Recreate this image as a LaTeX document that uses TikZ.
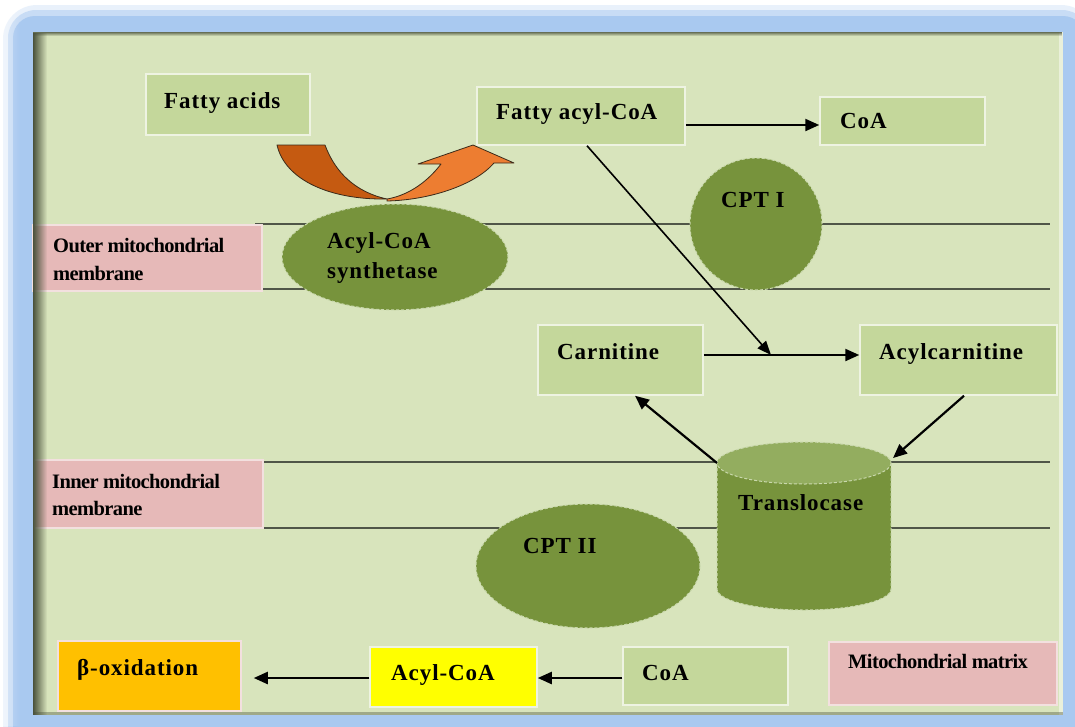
\documentclass[tikz,border=0pt]{standalone}
\usepackage{fontspec}
\setmainfont{Liberation Serif}
\newfontfamily\labfont{Liberation Serif}[LetterSpace=4]
\newfontfamily\smallfont{Liberation Serif}[LetterSpace=-3]
\usetikzlibrary{arrows.meta,calc,fadings,shapes.geometric}
\definecolor{panel}{HTML}{D8E4BC}
\definecolor{boxg}{HTML}{C4D79B}
\definecolor{boxedge}{HTML}{EEF3E2}
\definecolor{olive}{HTML}{77933C}
\definecolor{olivetop}{HTML}{93AD5F}
\definecolor{olivedge}{HTML}{C9D8AC}
\definecolor{pinkbox}{HTML}{E6B9B8}
\definecolor{pinkedge}{HTML}{F3E0DF}
\definecolor{frameblue}{HTML}{A9C9F0}
\definecolor{memline}{HTML}{505648}
\definecolor{orgdark}{HTML}{C55A11}
\definecolor{orglight}{HTML}{ED7D31}
\definecolor{orgline}{HTML}{3A2A1A}
\definecolor{betaorange}{HTML}{FFC000}
\definecolor{acylyellow}{HTML}{FFFF00}
\definecolor{shadowc}{HTML}{4A523C}
\tikzfading[name=fadeR, left color=transparent!0, right color=transparent!100]
\tikzfading[name=fadeD, top color=transparent!0, bottom color=transparent!100]
\begin{document}
\begin{tikzpicture}[x=1pt,y=-1pt,
  gbox/.style={draw=boxedge, line width=1.5pt, fill=boxg, inner sep=0pt},
  pbox/.style={draw=pinkedge, line width=1.5pt, fill=pinkbox, inner sep=0pt},
  lbl/.style={font=\labfont\bfseries\fontsize{23}{26}\selectfont, inner sep=0pt, anchor=base west},
  slbl/.style={font=\smallfont\bfseries\fontsize{20.5}{26}\selectfont, inner sep=0pt, anchor=base west},
  mem/.style={draw=memline, line width=2.2pt},
  arr/.style={draw=black, line width=2.2pt, -{Triangle[length=14pt,width=12pt]}},
  thinarr/.style={draw=black, line width=1.6pt, -{Triangle[length=14pt,width=11pt]}},
  enz/.style={fill=olive, draw=olivedge, dash pattern=on 3pt off 2pt, line width=1pt, inner sep=0pt},
  orange/.style={draw=orgline, line width=0.8pt, line join=round}
]
\useasboundingbox (0,0) rectangle (1075,726);
% frame
\fill[white] (0,0) rectangle (1075,726);
\fill[frameblue, opacity=.25, rounded corners=34pt] (3,5) rectangle (1095,760);
\fill[frameblue, opacity=.5, rounded corners=28pt] (8,10) rectangle (1090,760);
\fill[frameblue, rounded corners=22pt] (13,16) rectangle (1085,760);
\fill[white, opacity=.35, path fading=fadeR, fit fading=true] (0,0) rectangle (20,726);
% panel
\fill[panel] (33,32) rectangle (1063,715);
\fill[white!45!panel] (1059,32) rectangle (1063,715);
% membranes
\draw[mem] (255,224) -- (1050,224);
\draw[mem] (255,289) -- (1050,289);
\draw[mem] (262,462) -- (1050,462);
\draw[mem] (262,528) -- (1050,528);
% boxes
\node[gbox, minimum width=164pt, minimum height=61pt] (fa) at (228,104.5) {};
\node[gbox, minimum width=208pt, minimum height=58pt] (facoa) at (581,116) {};
\node[gbox, minimum width=165pt, minimum height=48pt] (coa1) at (902.5,121) {};
\node[gbox, minimum width=165pt, minimum height=70pt] (carn) at (620.5,360) {};
\node[gbox, minimum width=197pt, minimum height=70pt] (acarn) at (958.5,360) {};
\node[gbox, minimum width=165pt, minimum height=58pt] (coa2) at (705.5,676) {};
\node[pbox, minimum width=229pt, minimum height=66pt] (outer) at (147.5,258) {};
\node[pbox, minimum width=229pt, minimum height=68pt] (inner) at (148.5,494) {};
\node[pbox, minimum width=228pt, minimum height=63pt] (mm) at (943,673.5) {};
\node[draw=pinkedge, line width=1.5pt, fill=betaorange, inner sep=0pt, minimum width=183pt, minimum height=70pt] (beta) at (149.5,676) {};
\node[draw=boxedge, line width=1.5pt, fill=acylyellow, inner sep=0pt, minimum width=167pt, minimum height=60pt] (acoa) at (453.5,677) {};
% enzymes
\node[enz, ellipse, minimum width=226pt, minimum height=106pt] (acs) at (395,257) {};
\node[enz, circle, minimum size=132pt] (cpt1) at (756,224) {};
\node[enz, ellipse, minimum width=224pt, minimum height=124pt] (cpt2) at (588,566) {};
% translocase cylinder
\fill[olive] (717,463) rectangle (891,589);
\fill[olive] (804,589) ellipse (87 and 21);
\draw[olivedge, dash pattern=on 3pt off 2pt, line width=1pt] (717,463) -- (717,589) arc[start angle=180, end angle=0, x radius=87, y radius=21] -- (891,463);
\fill[olivetop] (804,463) ellipse (87 and 21);
\draw[olivedge, dash pattern=on 3pt off 2pt, line width=1pt] (804,463) ellipse (87 and 21);
\coordinate (trNW) at (717,463);
\coordinate (trNE) at (893,458);
% orange curved arrow
\filldraw[orange, fill=orgdark] (277,145) -- (325,145) .. controls (335,172) and (355,192) .. (387,199)
  .. controls (330,200) and (285,180) .. (277,145) -- cycle;
\filldraw[orange, fill=orglight] (387,201) .. controls (430,200) and (475,185) .. (494,163)
  -- (514,163) -- (473,145) -- (418,164) -- (441,164) .. controls (425,185) and (405,196) .. (387,199) -- cycle;
% texts
\node[lbl] (tfa) at (164,108) {Fatty acids};
\node[lbl] (tfacoa) at (496,119) {Fatty acyl-CoA};
\node[lbl] (tcoa1) at (840,128) {CoA};
\node[lbl] (tcpt1) at (721,207) {CPT I};
\node[lbl] (tacs1) at (327,248) {Acyl-CoA};
\node[lbl] (tacs2) at (327,278) {synthetase};
\node[slbl] (touter1) at (53,252) {Outer mitochondrial};
\node[slbl] (touter2) at (53,280) {membrane};
\node[lbl] (tcarn) at (557,359) {Carnitine};
\node[lbl] (tacarn) at (879,359) {Acylcarnitine};
\node[lbl] (ttr) at (738,510) {Translocase};
\node[slbl] (tinner1) at (52,488) {Inner mitochondrial};
\node[slbl] (tinner2) at (52,515) {membrane};
\node[lbl] (tcpt2) at (523,553) {CPT II};
\node[lbl] (tbeta) at (77,675) {β-oxidation};
\node[lbl] (tacoa) at (391,680) {Acyl-CoA};
\node[lbl] (tcoa2) at (642,680) {CoA};
\node[slbl] (tmm) at (848,668) {Mitochondrial matrix};
% connectors
\coordinate (jn) at (771,355);
\draw[arr] ([yshift=-9pt]facoa.east) -- ([yshift=-4pt]coa1.west);
\draw[thinarr] ([xshift=6pt]facoa.south) -- (jn);
\draw[arr] ([yshift=5pt]carn.east) -- ([yshift=5pt]acarn.west);
\draw[arr] ([xshift=5.5pt]acarn.south) -- (trNE);
\draw[arr] (trNW) -- ([xshift=14.5pt]carn.south);
\draw[arr] ([yshift=-2pt]coa2.west) -- ([yshift=-1pt]acoa.east);
\draw[arr] ([yshift=-1pt]acoa.west) -- ([xshift=12pt,yshift=-2pt]beta.east);
% panel shadows
\fill[shadowc, path fading=fadeR, fit fading=true] (33,32) rectangle (47,715);
\fill[shadowc, opacity=.8, path fading=fadeD, fit fading=true] (33,32) rectangle (1063,36);
\fill[shadowc, opacity=.4] (33,712) rectangle (1063,715);
\end{tikzpicture}
\end{document}
